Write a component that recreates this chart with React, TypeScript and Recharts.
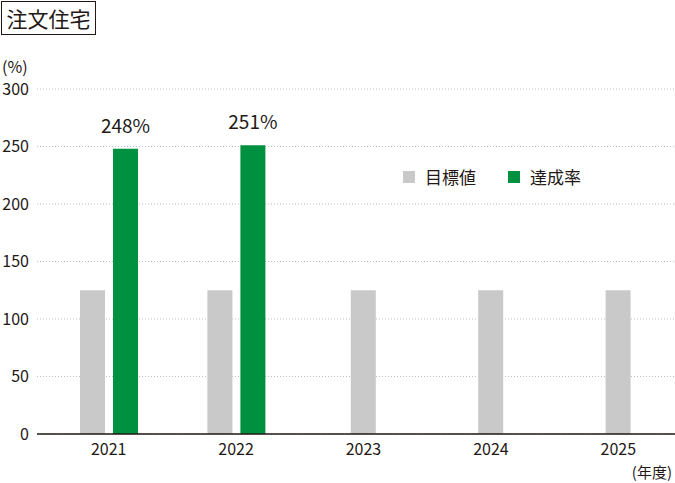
import React from "react";
import {
  Bar,
  BarChart,
  CartesianGrid,
  LabelList,
  XAxis,
  YAxis,
} from "recharts";

const years = ["2021", "2022", "2023", "2024", "2025"];
const targetValues = [125, 125, 125, 125, 125];
const actualValues: (number | null)[] = [248, 251, null, null, null];
const yTicks = [0, 50, 100, 150, 200, 250, 300];

const TEXT = "#231815";
const GRAY = "#c9c9c9";
const GREEN = "#009140";
const FONT = '"Noto Sans CJK JP", "Noto Sans", sans-serif';

// target bars sit beside the actual bar only when there is an actual value,
// otherwise they are centred on their own hidden axis
const rows = years.map((year, i) => ({
  year,
  targetPaired: actualValues[i] != null ? targetValues[i] : null,
  targetSolo: actualValues[i] == null ? targetValues[i] : null,
  actual: actualValues[i],
}));

const LegendItem = ({ color, label }: { color: string; label: string }) => (
  <div style={{ display: "flex", alignItems: "center" }}>
    <span style={{ width: 12, height: 12, background: color, marginRight: 10 }} />
    <span>{label}</span>
  </div>
);

export default function App() {
  return (
    <div
      style={{
        position: "fixed",
        left: 0,
        top: 0,
        width: 675,
        height: 483,
        overflow: "hidden",
        background: "#fff",
        fontFamily: FONT,
        color: TEXT,
      }}
    >
      <div
        style={{
          position: "absolute",
          left: 1,
          top: 1,
          width: 93,
          height: 32,
          border: `1.5px solid ${TEXT}`,
          fontSize: 21,
          lineHeight: "32px",
          textAlign: "center",
        }}
      >
        注文住宅
      </div>
      <div
        style={{ position: "absolute", left: 2, top: 58, fontSize: 16, lineHeight: "16px" }}
      >
        (%)
      </div>
      <div
        style={{ position: "absolute", right: 3, top: 464, fontSize: 15, lineHeight: "16px" }}
      >
        (年度)
      </div>
      <div
        style={{
          position: "absolute",
          left: 403,
          top: 164,
          display: "flex",
          gap: 32,
          fontSize: 17,
        }}
      >
        <LegendItem color={GRAY} label="目標値" />
        <LegendItem color={GREEN} label="達成率" />
      </div>

      <BarChart
        width={682}
        height={483}
        data={rows}
        margin={{ top: 89, right: 0, left: 0, bottom: 19 }}
        barSize={25}
        barGap={8}
        style={{ position: "absolute", left: 0, top: 0 }}
      >
        <CartesianGrid
          vertical={false}
          stroke="#bdbdbd"
          strokeDasharray="1 2"
        />
        <XAxis
          dataKey="year"
          height={30}
          padding={{ left: 8, right: 0 }}
          tickLine={false}
          tickMargin={4}
          axisLine={{ stroke: TEXT, strokeWidth: 1.5 }}
          tick={{ fontSize: 16, fill: TEXT, fontFamily: FONT }}
        />
        <XAxis
          xAxisId="solo"
          dataKey="year"
          hide
          padding={{ left: 8, right: 0 }}
        />
        <YAxis
          width={37}
          domain={[0, 300]}
          ticks={yTicks}
          axisLine={false}
          tickLine={false}
          tick={{ fontSize: 16, fill: TEXT, fontFamily: FONT }}
        />
        <Bar dataKey="targetPaired" fill={GRAY} isAnimationActive={false} />
        <Bar dataKey="actual" fill={GREEN} isAnimationActive={false}>
          <LabelList
            dataKey="actual"
            position="top"
            offset={16}
            formatter={(v: any) => (v != null ? `${v}%` : "")}
            style={{ fontSize: 19, fill: TEXT, fontFamily: FONT }}
          />
        </Bar>
        <Bar
          dataKey="targetSolo"
          xAxisId="solo"
          fill={GRAY}
          isAnimationActive={false}
        />
      </BarChart>
    </div>
  );
}
